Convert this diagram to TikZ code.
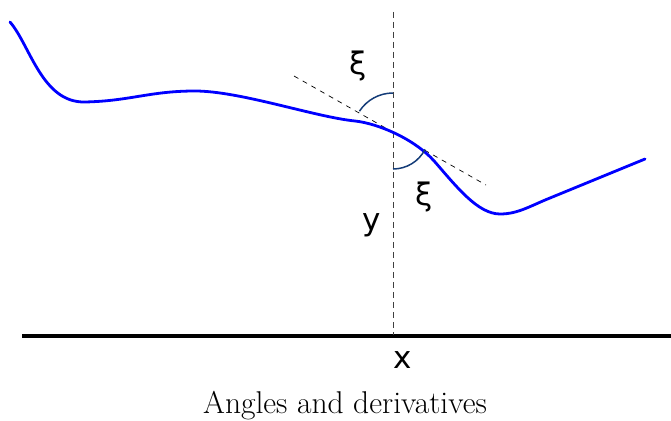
\documentclass[tikz,border=0pt]{standalone}
\usepackage{fontspec}
\newfontfamily\labfont{DejaVu Sans}
\begin{document}
\begin{tikzpicture}[x=1pt,y=-1pt,
  curve/.style={blue,line width=2.8pt,line cap=round},
  axis/.style={black,line width=3.2pt},
  vdash/.style={black!75,line width=1pt,dash pattern=on 6pt off 4pt},
  tdash/.style={black,line width=0.7pt,dash pattern=on 5pt off 5pt},
  anglearc/.style={draw={rgb,255:red,20;green,60;blue,120},line width=1.5pt},
  lab/.style={font=\labfont\fontsize{31}{33}\selectfont,inner sep=0pt},
  captext/.style={font=\fontsize{31.5}{33}\selectfont,inner sep=0pt}]
\useasboundingbox (0,0) rectangle (671,420);
\coordinate (P) at (393,133);
\coordinate (vtop) at (393,12);
\coordinate (vbot) at (393,335);
\coordinate (ax1) at (22,336);
\coordinate (ax2) at (671,336);
\coordinate (t1) at (294,76);
\coordinate (t2) at (486,185);
\draw[axis] (ax1) -- (ax2);
\draw[vdash] (vtop) -- (vbot);
\draw[tdash] (t1) -- (t2);
\draw[curve] (10,22) .. controls (30,45) and (42,103) .. (85,102)
  .. controls (130,101) and (150,91) .. (195,91)
  .. controls (240,91) and (315,117) .. (355,121)
  .. controls (378,123.5) and (415,139) .. (435,162)
  .. controls (457,187.3) and (478,214) .. (500,214)
  .. controls (518,214) and (530,206) .. (550,198)
  -- (645,159);
\draw[anglearc] ([shift={(90:40pt)}]P) arc[start angle=90,end angle=147,radius=40pt];
\draw[anglearc] ([shift={(270:36pt)}]P) arc[start angle=270,end angle=333,radius=36pt];
\node[lab] (xi1) at (358,66) {ξ};
\node[lab] (xi2) at (424,197) {ξ};
\node[lab] (ylab) at (372,225) {y};
\node[lab] (xlab) at (403,360) {x};
\node[captext,anchor=base] (caption) at (345,413) {Angles and derivatives};
\end{tikzpicture}
\end{document}
